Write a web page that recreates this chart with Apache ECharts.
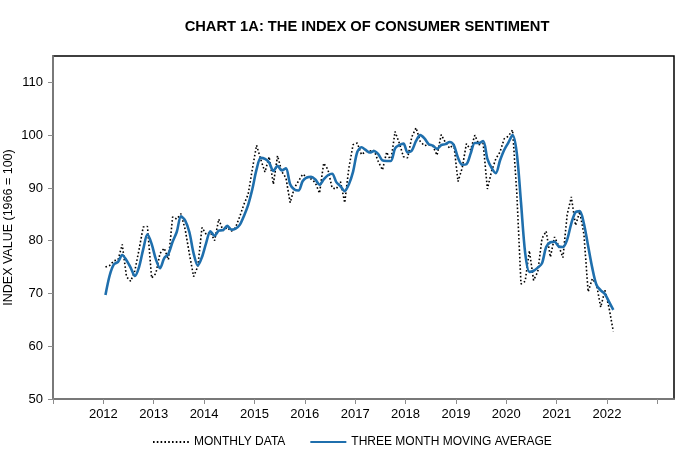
<!DOCTYPE html>
<html style="height: 100%">

<head>
  <meta charset="utf-8" />
  <title>Chart 1A</title>
  <script src="https://cdn.jsdelivr.net/npm/echarts@6/dist/echarts.min.js"></script>
</head>

<body style="height: 100%; margin: 0; overflow: hidden; background: #fff">
  <div id="container" style="width: 690px; height: 474px"></div>
  <script>
    // monthly index, Jan 2012 .. Feb 2022
    var firstYear = 2012;
    var monthly = [
      75.0, 75.3, 76.2, 76.4, 79.3, 73.2, 72.3, 74.3, 78.3, 82.6, 82.7, 72.9,
      73.8, 77.6, 78.6, 76.4, 84.5, 84.1, 85.1, 82.1, 77.5, 73.2, 75.1, 82.5,
      81.2, 81.6, 80.0, 84.1, 81.9, 82.5, 81.8, 82.5, 84.6, 86.9, 88.8, 93.6,
      98.1, 95.4, 93.0, 95.9, 90.7, 96.1, 93.1, 91.9, 87.2, 90.0, 91.3, 92.6,
      92.0, 91.7, 91.0, 89.0, 94.7, 93.5, 90.0, 89.8, 91.2, 87.2, 93.8, 98.2,
      98.5, 96.3, 96.9, 97.0, 97.1, 95.0, 93.4, 96.8, 95.1, 100.7, 98.5, 95.9,
      95.7, 99.7, 101.4, 98.8, 98.0, 98.2, 97.9, 96.2, 100.1, 98.6, 97.5, 98.3,
      91.2, 93.8, 98.4, 97.2, 100.0, 98.2, 98.4, 89.8, 93.2, 95.5, 96.8, 99.3,
      99.8, 101.0, 89.1, 71.8, 72.3, 78.1, 72.5, 74.1, 80.4, 81.8, 76.9, 80.7,
      79.0, 76.8, 84.9, 88.3, 82.9, 85.5, 81.2, 70.3, 72.8, 71.7, 67.4, 70.6,
      67.2, 62.8
    ];
    // three month moving average, same months
    var movingAvg = [
      69.7, 73.4, 75.5, 76.0, 77.3, 76.3, 74.9, 73.3, 75.0, 78.4, 81.2, 79.4,
      76.5, 74.8, 76.7, 77.5, 79.8, 81.7, 84.6, 83.8, 81.6, 77.6, 75.3, 76.9,
      79.6, 81.8, 80.9, 81.9, 82.0, 82.8, 82.1, 82.3, 83.0, 84.7, 86.8, 89.8,
      93.5, 95.7, 95.5, 94.8, 93.2, 94.2, 93.3, 93.7, 90.7, 89.7, 89.5, 91.3,
      92.0, 92.1, 91.6, 90.6, 91.6, 92.4, 92.7, 91.1, 90.3, 89.4, 90.7, 93.1,
      96.8, 97.7, 97.2, 96.7, 97.0, 96.4, 95.2, 95.1, 95.1, 97.5, 98.1, 98.4,
      96.7, 97.1, 98.9, 100.0, 99.4, 98.3, 98.0, 97.4, 98.1, 98.3, 98.7, 98.1,
      95.7, 94.4, 94.5, 96.5, 98.5, 98.5, 98.9, 95.5, 93.8, 92.8, 95.2, 97.2,
      98.6, 100.0, 96.6, 87.3, 77.7, 74.1, 74.3, 74.9, 75.7, 78.8, 79.7, 79.8,
      78.9, 78.8, 80.2, 83.3, 85.4, 85.6, 83.2, 79.0, 74.8, 71.6, 70.6, 69.9,
      68.4, 66.9
    ];
    var yearTicks = [2011, 2012, 2013, 2014, 2015, 2016, 2017, 2018, 2019, 2020, 2021, 2022, 2023];
    var yearLabels = [2012, 2013, 2014, 2015, 2016, 2017, 2018, 2019, 2020, 2021, 2022];
    var valueTicks = [50, 60, 70, 80, 90, 100, 110];

    // month i sits mid-month on a year axis
    var toPoints = arr => arr.map((v, i) => [firstYear + (i + 0.5) / 12, v]);

    var myChart = echarts.init(document.getElementById("container"), null, { renderer: "canvas" });
    var font = "Liberation Sans, Arial, sans-serif";
    var grey = "#8c8c8c";

    var option = {
      animation: false,
      textStyle: { fontFamily: font },
      title: {
        text: "CHART 1A: THE INDEX OF CONSUMER SENTIMENT",
        left: 362, top: 14, textAlign: "center",
        textStyle: { fontSize: 14.7, fontWeight: "bold", color: "#000", fontFamily: font },
      },
      legend: {
        bottom: 21, left: 147,
        itemWidth: 36, itemHeight: 10, itemGap: 24,
        itemStyle: { opacity: 0 },
        textStyle: { fontSize: 12, color: "#000", fontFamily: font },
        data: ["MONTHLY DATA", "THREE MONTH MOVING AVERAGE"],
      },
      grid: {
        left: 53, right: 16, top: 56, bottom: 75,
        outerBoundsMode: "none",
        show: true, borderColor: "#000", borderWidth: 1.5,
      },
      xAxis: {
        type: "value", min: 2011, max: 2023.33,
        splitLine: { show: false },
        axisLine: { lineStyle: { color: grey, width: 1.5 } },
        axisTick: { length: 5, lineStyle: { color: grey }, customValues: yearTicks },
        axisLabel: { fontSize: 13, color: "#000", margin: 9, customValues: yearLabels, formatter: v => String(v) },
      },
      yAxis: {
        type: "value", min: 50, max: 115,
        name: "INDEX VALUE (1966 = 100)", nameLocation: "middle", nameGap: 38,
        nameMoveOverlap: false,
        nameTextStyle: { fontSize: 12.5, color: "#000" },
        splitLine: { show: false },
        axisLine: { show: true, lineStyle: { color: grey, width: 1.5 } },
        axisTick: { show: true, length: 5, lineStyle: { color: grey }, customValues: valueTicks },
        axisLabel: { fontSize: 13, color: "#000", margin: 10, customValues: valueTicks },
      },
      series: [
        {
          name: "MONTHLY DATA", type: "line", symbol: "none",
          data: toPoints(monthly),
          lineStyle: { color: "#000", width: 1.6, type: [1.6, 2.2] },
          itemStyle: { color: "#000" },
          z: 2,
        },
        {
          name: "THREE MONTH MOVING AVERAGE", type: "line", symbol: "none",
          data: toPoints(movingAvg), smooth: 0.3,
          lineStyle: { color: "#1f6fad", width: 2.6 },
          itemStyle: { color: "#1f6fad" },
          z: 3,
        },
      ],
    };
    myChart.setOption(option);
  </script>
</body>

</html>
